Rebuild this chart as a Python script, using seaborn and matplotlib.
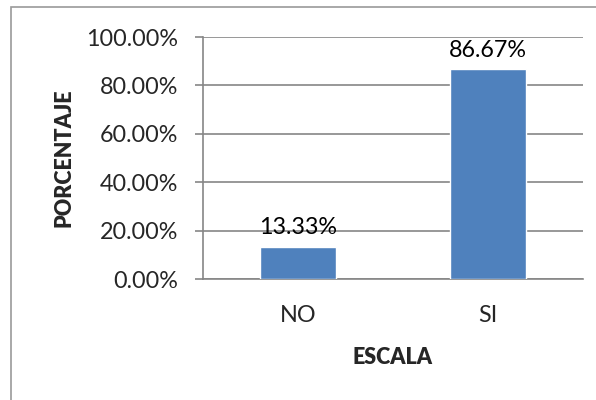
import matplotlib
matplotlib.use("Agg")
import matplotlib.pyplot as plt
import matplotlib.ticker as mtick
from matplotlib.patches import Rectangle
import pandas as pd
import seaborn as sns

categorias = ["NO", "SI"]
porcentajes = [13.33, 86.67]
etiquetas = ["13.33%", "86.67%"]

df = pd.DataFrame({"escala": categorias, "porcentaje": porcentajes})

sns.set_style("white")
plt.rcParams["font.family"] = ["Lato", "DejaVu Sans"]

fig = plt.figure(figsize=(5.96, 4.0), dpi=100)
ax = fig.add_axes([203 / 596, 1 - 279 / 400, 380 / 596, 242 / 400])

sns.barplot(data=df, x="escala", y="porcentaje", color="#4F81BD",
            saturation=1, width=0.4, ax=ax, zorder=3)

ax.set_ylim(0, 100)
ax.set_yticks([0, 20, 40, 60, 80, 100])
ax.yaxis.set_major_formatter(mtick.FuncFormatter(lambda v, p: f"{v:.2f}%"))
ax.grid(axis="y", color="#868686", linewidth=1.2, zorder=0)
ax.grid(axis="x", visible=False)

for s in ["top", "right"]:
    ax.spines[s].set_visible(False)
for s in ["left", "bottom"]:
    ax.spines[s].set_color("#868686")
    ax.spines[s].set_linewidth(1.2)

ax.tick_params(axis="y", length=6, width=1.2, color="#868686", pad=12,
               labelsize=16.8, left=True)
ax.tick_params(axis="x", length=0, pad=19, labelsize=16.8)

for i, (v, t) in enumerate(zip(porcentajes, etiquetas)):
    ax.annotate(t, (i, v), xytext=(0, 6), textcoords="offset points",
                ha="center", va="bottom", fontsize=16.8, color="black")

ax.set_xlabel("ESCALA", fontsize=15.5, fontweight="heavy", labelpad=15)
ax.set_ylabel("PORCENTAJE", fontsize=15.5, fontweight="heavy", labelpad=8)

fig.patches.append(Rectangle((11 / 596, -0.05), 1.1, 1 - 7 / 400 + 0.05,
                             transform=fig.transFigure, fill=False,
                             edgecolor="#9a9a9a", linewidth=1.2))

fig.savefig("out.png", dpi=100)
